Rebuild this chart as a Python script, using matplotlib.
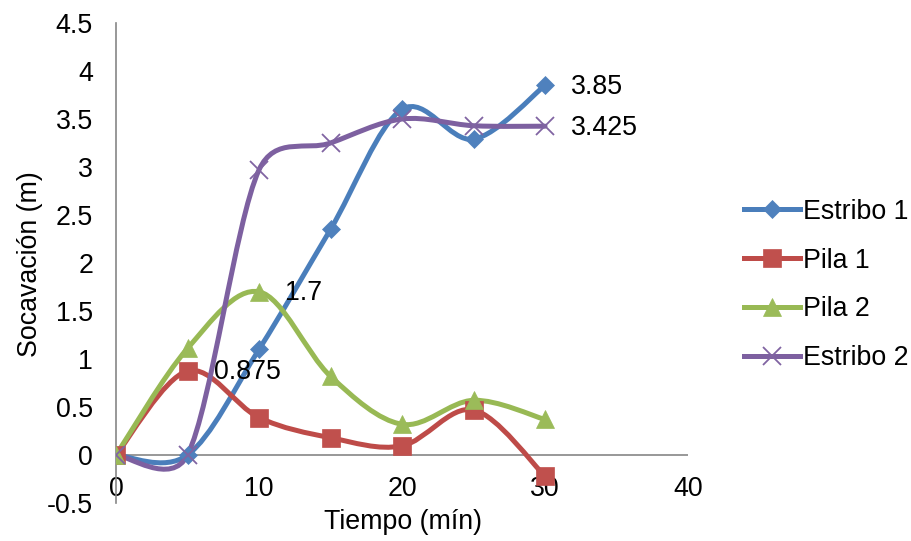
import matplotlib
matplotlib.use("Agg")
import matplotlib.pyplot as plt
import matplotlib.transforms as mtrans
from matplotlib.path import Path
from matplotlib.patches import PathPatch
from matplotlib.lines import Line2D
import numpy as np

plt.rcParams['font.family'] = ['Liberation Sans', 'DejaVu Sans']

# ---- data ----
tiempo = [0, 5, 10, 15, 20, 25, 30]
estribo1 = [0, 0.0, 1.1, 2.35, 3.6, 3.29, 3.85]
pila1 = [0, 0.875, 0.39, 0.18, 0.095, 0.47, -0.22]
pila2 = [0, 1.11, 1.7, 0.82, 0.32, 0.57, 0.37]
estribo2 = [0, 0.0, 2.97, 3.25, 3.5, 3.43, 3.425]

series_names = ["Estribo 1", "Pila 1", "Pila 2", "Estribo 2"]
series_vals = [estribo1, pila1, pila2, estribo2]
line_colors = ["#4A7EBB", "#BE4B48", "#98B954", "#7D60A0"]
marker_colors = ["#4F81BD", "#C0504D", "#9BBB59", "#8064A2"]
markers = ["D", "s", "^", "x"]
marker_sizes = [9.5, 13, 13, 13]

# data labels: (series index, point index, text)
labels = [(0, 6, "3.85"), (3, 6, "3.425"), (2, 2, "1.7"), (1, 1, "0.875")]

xticks = [0, 10, 20, 30, 40]
yticks = [-0.5, 0, 0.5, 1, 1.5, 2, 2.5, 3, 3.5, 4, 4.5]

FS = 19.3

fig = plt.figure(figsize=(9.11, 5.41), dpi=100)
ax = fig.add_axes([116/911, 1-503/541, (688-116)/911, (503-23)/541])
ax.set_xlim(0, 40)
ax.set_ylim(-0.5, 4.5)


def excel_smooth_path(xs, ys):
    """Excel-style Bezier smoothing computed in display space."""
    pts = ax.transData.transform(np.column_stack([xs, ys]))
    n = len(pts)
    inv = ax.transData.inverted()
    verts = [pts[0]]
    codes = [Path.MOVETO]
    f_base = 1.0 / 6.0
    for i in range(n - 1):
        p1 = pts[i]
        p2 = pts[i + 1]
        p0 = pts[i - 1] if i > 0 else p1
        p3 = pts[i + 2] if i + 2 < n else p2
        d12 = np.hypot(*(p2 - p1))
        d02 = np.hypot(*(p2 - p0))
        d13 = np.hypot(*(p3 - p1))
        f0 = f_base
        f1 = f_base
        if d02 / 6 >= d12 / 2 and d02 > 0:
            f0 = d12 / d02 / 2
        if d13 / 6 >= d12 / 2 and d13 > 0:
            f1 = d12 / d13 / 2
        c1 = p1 + (p2 - p0) * f0
        c2 = p2 - (p3 - p1) * f1
        verts += [c1, c2, p2]
        codes += [Path.CURVE4] * 3
    verts = inv.transform(np.array(verts))
    return Path(verts, codes)


handles = []
for name, vals, lc, mc, mk, ms in zip(series_names, series_vals, line_colors,
                                       marker_colors, markers, marker_sizes):
    patch = PathPatch(excel_smooth_path(tiempo, vals), fill=False,
                      edgecolor=lc, linewidth=3.6, capstyle='round',
                      joinstyle='round', zorder=3)
    ax.add_patch(patch)
    mew = 1.3 if mk == 'x' else 0.5
    ax.plot(tiempo, vals, linestyle='none', marker=mk, markersize=ms,
            markerfacecolor=mc, markeredgecolor=mc, markeredgewidth=mew,
            zorder=4)
    handles.append(Line2D([0], [0], color=lc, linewidth=3.6, marker=mk,
                          markersize=ms, markerfacecolor=mc,
                          markeredgecolor=mc, markeredgewidth=mew))

for si, pi, txt in labels:
    ax.annotate(txt, (tiempo[pi], series_vals[si][pi]), xytext=(19, -1),
                textcoords='offset points', ha='left', va='center',
                fontsize=FS, color='black', zorder=5)

# axes styling
for s in ['top', 'right', 'bottom']:
    ax.spines[s].set_visible(False)
ax.spines['left'].set_color('#868686')
ax.spines['left'].set_linewidth(1.2)
ax.axhline(0, color='#868686', linewidth=1.2, zorder=1)

ax.set_xticks(xticks)
ax.set_xticklabels([str(t) for t in xticks])
ax.set_yticks(yticks)
ax.set_yticklabels([f"{t:g}" for t in yticks])
ax.tick_params(axis='both', length=0, labelsize=FS, colors='black')
ax.tick_params(axis='y', pad=16.5)
# x tick labels sit just below the zero line (Excel "next to axis")
for t in ax.xaxis.get_major_ticks():
    t.label1.set_transform(ax.transData
                           + mtrans.ScaledTranslation(0, -21/100,
                                                      fig.dpi_scale_trans))
    t.label1.set_verticalalignment('top')

fig.text(403/911, 1-522/541, "Tiempo (mín)", ha='center', va='center',
         fontsize=FS)
fig.text(30/911, 1-264/541, "Socavación (m)", ha='center', va='center',
         rotation=90, fontsize=FS)

fig.legend(handles, series_names, loc='center left',
           bbox_to_anchor=(744/911, 1-285/541), frameon=False, fontsize=FS,
           handlelength=2.1, handletextpad=0.1, labelspacing=0.85,
           numpoints=1, borderaxespad=0, borderpad=0)

fig.savefig("out.png", dpi=100)
